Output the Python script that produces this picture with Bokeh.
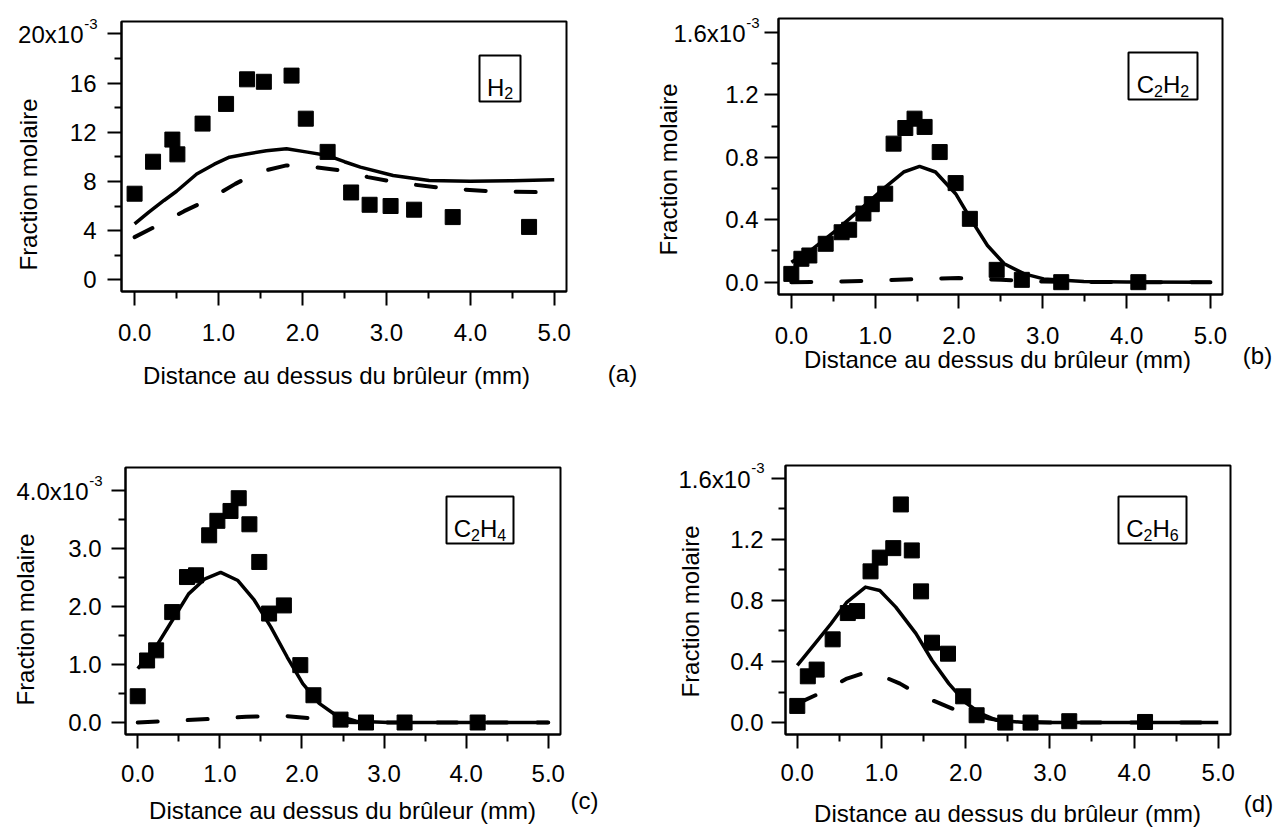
import math
from bokeh.plotting import figure
from bokeh.models import Range1d, FixedTicker, PrintfTickFormatter, Label, BoxAnnotation
from bokeh.layouts import row, column
from bokeh.embed import file_html
from bokeh.resources import INLINE

# ---------------- data (mole fractions in units of 1e-3, distance in mm) ----------------
# (a) H2
h2_exp_x = [0.0, 0.22, 0.45, 0.51, 0.81, 1.09, 1.34, 1.54, 1.87, 2.04, 2.30, 2.58, 2.80, 3.05, 3.33, 3.79, 4.70]
h2_exp_y = [7.0, 9.6, 11.4, 10.2, 12.7, 14.3, 16.3, 16.1, 16.6, 13.1, 10.4, 7.1, 6.1, 6.0, 5.7, 5.1, 4.3]
h2_mod1_x = [0.0, 0.17, 0.35, 0.5, 0.74, 0.95, 1.13, 1.32, 1.57, 1.81, 2.06, 2.3, 2.5, 2.69, 3.08, 3.51, 4.0, 4.5, 5.0]
h2_mod1_y = [4.55, 5.5, 6.45, 7.2, 8.6, 9.4, 9.97, 10.2, 10.5, 10.65, 10.38, 10.1, 9.6, 9.16, 8.48, 8.07, 8.02, 8.05, 8.13]
h2_mod2_x = [0.0, 0.25, 0.59, 0.86, 1.2, 1.47, 1.81, 2.06, 2.44, 2.78, 3.17, 3.76, 4.25, 5.0]
h2_mod2_y = [3.47, 4.34, 5.58, 6.45, 7.8, 8.75, 9.3, 9.24, 8.9, 8.35, 7.86, 7.4, 7.2, 7.1]

# (b) C2H2
c2h2_exp_x = [0.0, 0.12, 0.215, 0.41, 0.6, 0.69, 0.86, 0.96, 1.12, 1.22, 1.36, 1.47, 1.59, 1.77, 1.96, 2.13, 2.45, 2.75, 3.22, 4.14]
c2h2_exp_y = [0.053, 0.15, 0.171, 0.246, 0.32, 0.336, 0.44, 0.50, 0.567, 0.888, 0.988, 1.048, 0.995, 0.834, 0.635, 0.406, 0.079, 0.015, 0.0, 0.0]
c2h2_mod1_x = [0.0, 0.24, 0.53, 0.81, 1.1, 1.34, 1.53, 1.72, 1.96, 2.15, 2.34, 2.54, 2.78, 3.01, 3.49, 4.0, 5.0]
c2h2_mod1_y = [0.128, 0.207, 0.33, 0.46, 0.60, 0.706, 0.742, 0.706, 0.567, 0.396, 0.235, 0.118, 0.053, 0.021, 0.004, 0.001, 0.0]
c2h2_mod2_x = [0.0, 0.5, 1.0, 1.5, 2.0, 2.5, 3.0, 3.5, 4.0, 5.0]
c2h2_mod2_y = [0.0, 0.003, 0.01, 0.02, 0.026, 0.015, 0.004, 0.001, 0.0, 0.0]

# (c) C2H4
c2h4_exp_x = [0.0, 0.114, 0.224, 0.42, 0.6, 0.71, 0.87, 0.97, 1.13, 1.23, 1.36, 1.48, 1.6, 1.78, 1.98, 2.14, 2.47, 2.78, 3.25, 4.14]
c2h4_exp_y = [0.453, 1.07, 1.245, 1.905, 2.51, 2.54, 3.23, 3.48, 3.65, 3.87, 3.42, 2.77, 1.88, 2.02, 0.99, 0.47, 0.05, 0.0, 0.0, 0.0]
c2h4_mod1_x = [0.0, 0.22, 0.42, 0.62, 0.82, 1.01, 1.22, 1.42, 1.62, 1.82, 2.01, 2.21, 2.41, 2.66, 3.06, 4.0, 5.0]
c2h4_mod1_y = [0.93, 1.30, 1.76, 2.22, 2.48, 2.59, 2.45, 2.11, 1.65, 1.13, 0.67, 0.33, 0.13, 0.023, 0.0, 0.0, 0.0]
c2h4_mod2_x = [0.0, 0.57, 1.0, 1.32, 1.82, 2.11, 2.46, 3.0, 4.0, 5.0]
c2h4_mod2_y = [0.0, 0.04, 0.07, 0.1, 0.11, 0.07, 0.01, 0.0, 0.0, 0.0]

# (d) C2H6
c2h6_exp_x = [0.0, 0.125, 0.23, 0.42, 0.6, 0.71, 0.87, 0.98, 1.14, 1.23, 1.36, 1.47, 1.6, 1.79, 1.97, 2.13, 2.47, 2.77, 3.23, 4.13]
c2h6_exp_y = [0.109, 0.303, 0.347, 0.545, 0.717, 0.73, 0.99, 1.08, 1.142, 1.428, 1.127, 0.859, 0.523, 0.451, 0.172, 0.048, 0.0, 0.0, 0.009, 0.004]
c2h6_mod1_x = [0.0, 0.21, 0.4, 0.59, 0.81, 0.98, 1.17, 1.41, 1.6, 1.8, 1.99, 2.18, 2.37, 2.71, 3.5, 5.0]
c2h6_mod1_y = [0.375, 0.517, 0.647, 0.789, 0.887, 0.865, 0.756, 0.582, 0.408, 0.255, 0.135, 0.059, 0.015, 0.0, 0.0, 0.0]
c2h6_mod2_x = [0.0, 0.26, 0.59, 0.83, 1.03, 1.22, 1.46, 1.84, 2.09, 2.28, 2.47, 3.0, 4.0, 5.0]
c2h6_mod2_y = [0.124, 0.19, 0.288, 0.331, 0.3, 0.255, 0.179, 0.092, 0.052, 0.026, 0.009, 0.0, 0.0, 0.0]

x_ticks = [0, 1, 2, 3, 4, 5]
x_minor = [0.5, 1.5, 2.5, 3.5, 4.5]
ya_ticks = [0, 4, 8, 12, 16, 20]
ya_minor = [2, 6, 10, 14, 18]
yb_ticks = [0.0, 0.4, 0.8, 1.2, 1.6]
yb_minor = [0.2, 0.6, 1.0, 1.4]
yc_ticks = [0.0, 1.0, 2.0, 3.0, 4.0]
yc_minor = [0.5, 1.5, 2.5, 3.5]

x_title = "Distance au dessus du brûleur (mm)"
y_title = "Fraction molaire"

FONT = "Liberation Sans"
FS = 24


def make_panel(cfg, ex, ey, m1x, m1y, m2x, m2y, yt, ym, yfmt, top_text, top_val, species, letter):
    fx, fy, W, H = cfg["fig"]
    L, T, R, B = cfg["box"]
    bx0, bx1 = cfg["xr"]
    by0, by1 = cfg["yr"]
    sx = (R - L) / (bx1 - bx0)
    sy = (B - T) / (by1 - by0)
    x0 = bx0 - (L - fx) / sx
    x1 = bx1 + (fx + W - R) / sx
    y1 = by1 + (T - fy) / sy
    y0 = by0 - (fy + H - B) / sy

    p = figure(width=W, height=H, x_range=Range1d(x0, x1), y_range=Range1d(y0, y1),
               min_border_left=0, min_border_right=0, min_border_top=0, min_border_bottom=0,
               output_backend="svg", toolbar_location=None, title=None)
    p.background_fill_color = "white"
    p.border_fill_color = "white"
    p.outline_line_color = None
    p.xgrid.visible = False
    p.ygrid.visible = False

    def dx(ix):
        return x0 + (ix - fx) / sx

    def dy(iy):
        return y1 - (iy - fy) / sy

    def iy_of(v):
        return fy + (y1 - v) * sy

    for ax in (p.xaxis[0], p.yaxis[0]):
        ax.axis_line_color = "black"
        ax.axis_line_width = 2
        ax.major_tick_line_color = "black"
        ax.major_tick_line_width = 2
        ax.minor_tick_line_color = "black"
        ax.minor_tick_line_width = 2
        ax.major_tick_in = 0
        ax.major_tick_out = 14
        ax.minor_tick_in = 0
        ax.minor_tick_out = 7
        ax.major_label_text_font = FONT
        ax.major_label_text_font_size = f"{FS}px"
        ax.major_label_text_color = "black"
        ax.axis_label = None

    p.xaxis.ticker = FixedTicker(ticks=x_ticks, minor_ticks=x_minor)
    p.xaxis.formatter = PrintfTickFormatter(format="%.1f")
    p.xaxis.major_label_standoff = cfg["xstand"]
    p.xaxis.fixed_location = by0
    p.xaxis.bounds = (bx0, bx1)
    p.yaxis.ticker = FixedTicker(ticks=yt, minor_ticks=ym)
    p.yaxis.formatter = PrintfTickFormatter(format=yfmt)
    p.yaxis.major_label_standoff = cfg["ystand"]
    p.yaxis.major_label_overrides = {top_val: ""}
    p.yaxis.fixed_location = bx0
    p.yaxis.bounds = (by0, by1)

    # plot box
    p.add_layout(BoxAnnotation(left=bx0, right=bx1, top=by1, bottom=by0,
                               fill_alpha=0, line_color="black", line_width=2, line_alpha=1))

    # curves and measurements
    p.line(m2x, m2y, line_color="black", line_width=4, line_dash="20 30", line_cap="round")
    p.line(m1x, m1y, line_color="black", line_width=3.5, line_join="round")
    p.scatter(ex, ey, marker="square", size=15, fill_color="black", line_color="black")

    def lab(ix, iy, text, size, align="center", baseline="middle", angle=0.0):
        p.add_layout(Label(x=dx(ix), y=dy(iy), text=text, text_font=FONT,
                           text_font_size=f"{size}px", text_align=align,
                           text_baseline=baseline, angle=angle, text_color="black"))

    # top tick label with superscript exponent
    lbl_right = L - 14 - cfg["ystand"]
    ty = iy_of(top_val)
    lab(lbl_right - 13, ty + 1, top_text, FS, align="right")
    lab(lbl_right + 1, ty - 10, "-3", 15, align="right")

    # axis titles and panel letter
    xt = cfg["xtitle"]
    lab(xt[0], xt[1], x_title, FS)
    yl = cfg["ytitle"]
    lab(yl[0], yl[1], y_title, FS, angle=math.pi / 2)
    lt = cfg["letter"]
    lab(lt[0], lt[1], letter, FS)

    # species box
    bl, bt, br, bb = cfg["sbox"]
    p.add_layout(BoxAnnotation(left=dx(bl), right=dx(br), top=dy(bt), bottom=dy(bb),
                               fill_alpha=0, line_color="black", line_width=2, line_alpha=1))
    adv = {"C": 0.722, "H": 0.722}
    main_sz, sub_sz = 24, 16
    widths = [(adv[ch] * main_sz) if not sub else 0.556 * sub_sz for ch, sub in species]
    total = sum(widths)
    cx = (bl + br) / 2.0
    cy = (bt + bb) / 2.0
    base = cy + 0.716 * main_sz / 2.0
    xcur = cx - total / 2.0
    for (ch, sub), w in zip(species, widths):
        if sub:
            lab(xcur, base + 6, ch, sub_sz, align="left", baseline="alphabetic")
        else:
            lab(xcur, base, ch, main_sz, align="left", baseline="alphabetic")
        xcur += w
    return p


cfg_a = dict(fig=(0, 0, 640, 414), box=(121, 21, 566, 291), xr=(-0.156, 5.146), yr=(-0.95, 21.0),
             xstand=18, ystand=11, xtitle=(336, 375), letter=(622, 373), ytitle=(28, 184),
             sbox=(479, 55, 520, 101))
cfg_b = dict(fig=(640, 0, 634, 414), box=(778, 18, 1222, 294), xr=(-0.153, 5.144), yr=(-0.079, 1.69),
             xstand=18, ystand=6, xtitle=(997, 359), letter=(1257, 355), ytitle=(668, 169),
             sbox=(1128, 52, 1197, 99))
cfg_c = dict(fig=(0, 414, 640, 414), box=(125, 467, 560, 734), xr=(-0.149, 5.149), yr=(-0.207, 4.40),
             xstand=16, ystand=10, xtitle=(342, 810), letter=(584, 800), ytitle=(25, 619),
             sbox=(446, 496, 513, 543))
cfg_d = dict(fig=(640, 414, 634, 414), box=(785, 465, 1230, 734), xr=(-0.14, 5.145), yr=(-0.078, 1.683),
             xstand=15, ystand=8, xtitle=(1007, 813), letter=(1258, 803), ytitle=(690, 611),
             sbox=(1118, 496, 1186, 543))

pa = make_panel(cfg_a, h2_exp_x, h2_exp_y, h2_mod1_x, h2_mod1_y, h2_mod2_x, h2_mod2_y,
                ya_ticks, ya_minor, "%d", "20x10", 20, [("H", False), ("2", True)], "(a)")
pb = make_panel(cfg_b, c2h2_exp_x, c2h2_exp_y, c2h2_mod1_x, c2h2_mod1_y, c2h2_mod2_x, c2h2_mod2_y,
                yb_ticks, yb_minor, "%.1f", "1.6x10", 1.6, [("C", False), ("2", True), ("H", False), ("2", True)], "(b)")
pc = make_panel(cfg_c, c2h4_exp_x, c2h4_exp_y, c2h4_mod1_x, c2h4_mod1_y, c2h4_mod2_x, c2h4_mod2_y,
                yc_ticks, yc_minor, "%.1f", "4.0x10", 4.0, [("C", False), ("2", True), ("H", False), ("4", True)], "(c)")
pd = make_panel(cfg_d, c2h6_exp_x, c2h6_exp_y, c2h6_mod1_x, c2h6_mod1_y, c2h6_mod2_x, c2h6_mod2_y,
                yb_ticks, yb_minor, "%.1f", "1.6x10", 1.6, [("C", False), ("2", True), ("H", False), ("6", True)], "(d)")

layout = column(row(pa, pb), row(pc, pd))
open("out.html", "w").write(file_html(layout, INLINE))
